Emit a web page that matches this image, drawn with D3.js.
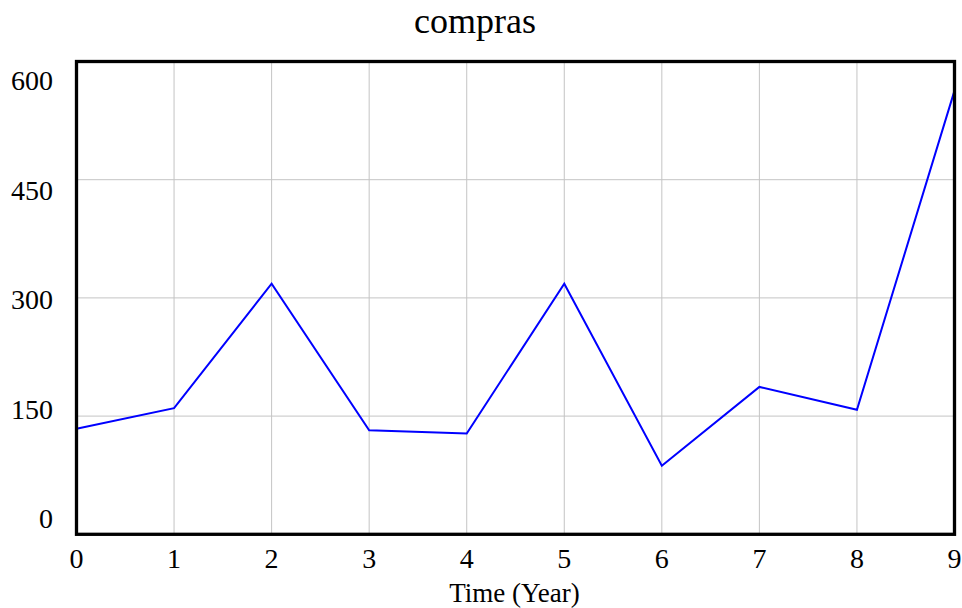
<!DOCTYPE html>
<html>
<head>
<meta charset="utf-8">
<script src="https://cdn.jsdelivr.net/npm/d3@7"></script>
<style>
  body { margin: 0; background: #fff; }
  text { font-family: "Liberation Serif", "Times New Roman", serif; fill: #000; }
</style>
</head>
<body>
<div id="chart"></div>
<script>
const years = [0, 1, 2, 3, 4, 5, 6, 7, 8, 9];
const compras = [134, 160, 318, 132, 128, 318, 87, 187, 158, 563];
const yTicks = [0, 150, 300, 450, 600];

const width = 962;
const height = 608;
const margin = { top: 61.5, right: 7.5, bottom: 73.7, left: 76.5 };
const innerW = width - margin.left - margin.right;
const innerH = height - margin.top - margin.bottom;

const svg = d3.select("#chart").append("svg")
  .attr("width", width)
  .attr("height", height);

const g = svg.append("g")
  .attr("transform", `translate(${margin.left},${margin.top})`);

const x = d3.scaleLinear().domain([0, 9]).range([0, innerW]);
const y = d3.scaleLinear().domain([0, 600]).range([innerH, 0]);

// label baselines are spread a bit inside the frame, like the original
const yLabel = d3.scaleLinear().domain([0, 600]).range([innerH - 6.3, 28.5]);

// grid
g.append("g")
  .selectAll("line")
  .data(years.slice(1, -1))
  .join("line")
  .attr("x1", d => x(d)).attr("x2", d => x(d))
  .attr("y1", 0).attr("y2", innerH)
  .attr("stroke", "#c4c4c4").attr("stroke-width", 1);

g.append("g")
  .selectAll("line")
  .data(yTicks.slice(1, -1))
  .join("line")
  .attr("x1", 0).attr("x2", innerW)
  .attr("y1", d => y(d)).attr("y2", d => y(d))
  .attr("stroke", "#c4c4c4").attr("stroke-width", 1);

// line
const line = d3.line()
  .x((d, i) => x(years[i]))
  .y(d => y(d));

g.append("path")
  .datum(compras)
  .attr("fill", "none")
  .attr("stroke", "#0000ff")
  .attr("stroke-width", 2)
  .attr("d", line);

// frame
g.append("rect")
  .attr("width", innerW)
  .attr("height", innerH)
  .attr("fill", "none")
  .attr("stroke", "#000")
  .attr("stroke-width", 3.3);

// y labels
g.append("g")
  .selectAll("text")
  .data(yTicks)
  .join("text")
  .attr("x", -23.5)
  .attr("y", d => yLabel(d))
  .attr("text-anchor", "end")
  .style("font-size", "28px")
  .text(d => d);

// x labels
g.append("g")
  .selectAll("text")
  .data(years)
  .join("text")
  .attr("x", d => x(d))
  .attr("y", innerH + 33.5)
  .attr("text-anchor", "middle")
  .style("font-size", "28px")
  .text(d => d);

// axis title
svg.append("text")
  .attr("x", margin.left + innerW / 2 - 1)
  .attr("y", 602)
  .attr("text-anchor", "middle")
  .style("font-size", "27px")
  .text("Time (Year)");

// title
svg.append("text")
  .attr("x", 475)
  .attr("y", 33)
  .attr("text-anchor", "middle")
  .style("font-size", "36px")
  .text("compras");
</script>
</body>
</html>
